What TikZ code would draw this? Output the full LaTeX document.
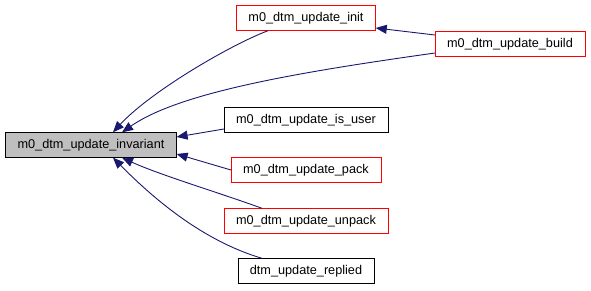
\documentclass[tikz,border=0pt]{standalone}
\usepackage{fontspec}
\setmainfont{Liberation Sans}
\usetikzlibrary{arrows.meta}

\definecolor{edgeblue}{HTML}{191970}
\definecolor{rootgray}{HTML}{BFBFBF}

\tikzset{
  fn/.style={draw=black,fill=white,rectangle,inner xsep=12pt,minimum height=25pt,
    font=\fontsize{12.7}{15}\selectfont},
  fnred/.style={fn,draw=red},
  fnroot/.style={fn,fill=rootgray},
  link/.style={draw=edgeblue,line width=0.9pt,
    -{Triangle[length=11pt,width=9pt]}}
}

\begin{document}
\begin{tikzpicture}[x=1pt,y=-1pt]
  \useasboundingbox (0,0) rectangle (591,291);

  \node (inv)[fnroot] at (91,145) {m0\_dtm\_update\_invariant};
  \node (init)[fnred] at (306,18) {m0\_dtm\_update\_init};
  \node (build)[fnred] at (510,44) {m0\_dtm\_update\_build};
  \node (user)[fn] at (306,120) {m0\_dtm\_update\_is\_user};
  \node (pack)[fnred] at (306,170) {m0\_dtm\_update\_pack};
  \node (unpack)[fnred] at (306,221) {m0\_dtm\_update\_unpack};
  \node (replied)[fn] at (306,271) {dtm\_update\_replied};

  % callers of the invariant check
  \draw[link] ([xshift=-38pt]init.south) .. controls (230,45) and (150,92) .. ([xshift=22pt]inv.north);
  \draw[link] ([yshift=-9pt]build.west) .. controls (300,72) and (180,92) .. ([xshift=31pt]inv.north);
  \draw[link] ([yshift=-9pt]user.west) -- ([yshift=8pt]inv.east);
  \draw[link] (pack.west) -- ([yshift=-9pt]inv.east);
  \draw[link] ([xshift=-44pt]unpack.north) .. controls (220,193) and (160,175) .. ([xshift=31pt]inv.south);
  \draw[link] ([xshift=-44pt]replied.north) .. controls (200,240) and (150,195) .. ([xshift=22pt]inv.south);

  % build goes through init too
  \draw[link] ([yshift=9pt]build.west) -- ([yshift=-10pt]init.east);
\end{tikzpicture}
\end{document}
